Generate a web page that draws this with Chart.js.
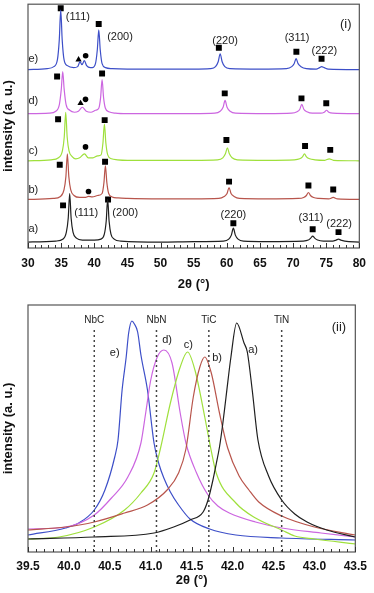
<!DOCTYPE html>
<html>
<head>
<meta charset="utf-8">
<style>
  html, body { margin: 0; padding: 0; background: #fff; }
  canvas { display: block; }
</style>
</head>
<body>
<canvas id="graficoXRD" width="374" height="296"></canvas>
<canvas id="graficoPico" width="374" height="297"></canvas>
<script src="https://cdn.jsdelivr.net/npm/chart.js@4.4.1/dist/chart.umd.min.js"></script>
<script>
// ---- panel (i): difractogramas completos, 2θ vs intensidad desplazada ----
const trazaA = [[30,6],[34.2,7],[35.3,9],[35.79,16],[36.07,30],[36.29,55],[36.51,30],[36.79,16],[37.3,10],[38.2,8],[40.0,8],
  [41.0,9],[41.52,14],[41.8,27],[42.02,49],[42.24,27],[42.52,14],[43.0,9],[44.0,7],[50,6],[55,6.5],
  [59.5,7],[60.3,9],[60.69,13],[60.99,20],[61.29,13],[61.7,9],[62.5,7],[66,6.5],
  [71.5,7],[72.3,8],[72.66,10],[72.96,12],[73.26,10],[73.7,8],[74.6,7],[76.0,7],[76.5,8],[76.86,9],[77.2,8],[77.8,7],[80,6]];
const trazaB = [[30,49],[33.8,50],[34.9,52],[35.44,59],[35.72,72],[35.94,95],[36.16,72],[36.44,59],[36.94,53],[37.8,51],
  [38.6,51],[39.13,52],[39.7,51.5],[40.5,53],[41.18,55],[41.46,66],[41.68,83],[41.9,66],[42.18,55],[42.7,51.5],[43.6,50.5],
  [45,50],[50,49.5],[55,49.5],[58.8,50],[59.6,52],[60.04,55],[60.34,61],[60.64,55],[61.1,52],[61.9,50],[66,49.5],
  [70.8,50],[71.6,51],[72.02,53],[72.32,56],[72.62,53],[73.1,51],[73.9,50],[75.4,49.5],[76.06,51],[76.7,49.5],[80,49]];
const trazaC = [[30,88],[33.5,89],[34.6,91],[35.19,98],[35.47,112],[35.69,137],[35.91,112],[36.19,98],[36.7,92],
  [37.2,90],[37.8,91],[38.53,95],[39.1,91],[39.8,91],[40.5,93],[41.03,94],[41.31,106],[41.53,125],[41.75,106],[42.03,94],
  [42.6,90],[43.5,89],[45,88.5],[50,88.5],[55,88.5],[58.6,89],[59.4,91],[59.79,95],[60.09,101],[60.39,95],[60.8,91],[61.6,89],
  [66,88.5],[70.2,89],[71.0,90],[71.42,92],[71.72,95],[72.02,92],[72.5,90],[73.3,89],[74.8,88.5],[75.46,90],[76.1,88.5],[80,88]];
const trazaD = [[30,135.5],[33.2,136],[34.2,138],[34.74,145],[35.02,160],[35.24,178],[35.46,160],[35.74,145],[36.3,139],[37.0,137],
  [37.6,138],[38.2,142],[38.8,138],[39.5,137],[40.2,139],[40.68,141],[40.96,152],[41.18,170],[41.4,152],[41.68,141],[42.2,137.5],
  [43.2,136],[45,135.5],[50,135.5],[55,135.5],[58.2,136],[59.0,138],[59.44,142],[59.74,149],[60.04,142],[60.5,138],[61.3,136],
  [66,135.5],[69.8,136],[70.6,137.5],[71.02,140],[71.32,145],[71.62,140],[72.1,137.5],[72.9,136],
  [74.2,136],[74.7,137],[75.06,139],[75.4,137],[76.0,136],[80,135.5]];
const trazaE = [[30,180],[32.9,181],[33.9,183],[34.44,190],[34.72,210],[34.94,240],[35.16,210],[35.44,190],[35.94,184],[36.9,182],
  [37.5,183],[37.85,188],[38.15,185],[38.5,189],[38.85,184],[39.4,182],[39.7,182],[40.18,186],[40.46,200],[40.68,220],[40.9,200],
  [41.18,186],[41.7,182],[42.7,181],[45,180.5],[50,180.5],[55,180.5],[57.5,181],[58.3,183],[58.7,188],[59.0,196],[59.3,188],
  [59.7,183],[60.5,181],[65,180.5],[69.0,181],[69.8,183],[70.16,186],[70.46,191],[70.76,186],[71.2,183],[72.0,181],
  [73.5,180.5],[74.0,182],[74.31,183],[74.7,182],[75.3,180.5],[80,180]];

// fases: ■ carburo/nitruro cúbico, ● y ▲ fases secundarias
const marcasCuadro = [[34.94,242],[40.67,226],[58.8,202],[70.5,198],[74.3,191],
  [34.39,173],[41.18,176],[59.69,156],[71.27,151],[75.01,146],
  [34.54,130],[41.57,129],[59.94,109],[71.81,103],[75.61,99],
  [34.79,84],[41.63,87],[60.34,67],[72.32,63],[76.06,59],
  [35.29,43],[42.08,49],[60.99,25],[72.96,19],[76.86,16]];
const marcasCirculo = [[38.7,194],[38.68,150],[38.68,102],[39.13,57]];
const marcasTriangulo = [[37.63,190],[37.93,146]];

const textosXRD = [
  ['e)',30.8,191],['d)',30.8,148],['c)',30.8,98],['b)',30.8,59],['a)',30.8,19],
  ['(111)',37.53,233],['(200)',43.88,213],['(220)',59.74,209],['(311)',70.61,212],['(222)',74.72,199],
  ['(111)',38.78,35],['(200)',44.67,35],['(220)',60.99,33],['(311)',72.71,30],['(222)',76.96,24]
];

// ---- panel (ii): detalle del pico (200) ----
const picoA = [[39.5,13],[40.31,15],[41.04,19],[41.28,25],[41.48,32],[41.64,40],[41.70,52],[41.76,72],[41.80,88],[41.84,105],
  [41.88,128],[41.92,155],[41.98,195],[42.05,229],[42.14,209],[42.18,200],[42.24,162],[42.31,112],[42.44,76],[42.60,52],
  [42.76,38],[42.91,30],[43.15,22],[43.5,15]];
const picoB = [[39.5,22],[39.96,25],[40.31,30],[40.68,39],[40.96,47],[41.20,62],[41.34,79],[41.43,103],[41.52,155],[41.60,185],
  [41.66,195],[41.74,179],[41.84,139],[41.94,104],[42.08,76],[42.20,62],[42.32,50],[42.60,36],[43.0,25],[43.5,17]];
const picoC = [[39.5,13],[39.88,15],[40.31,25],[40.68,42],[40.88,59],[41.04,79],[41.12,104],[41.24,149],[41.36,185],[41.45,200],
  [41.54,182],[41.66,135],[41.73,105],[41.80,79],[42.04,49],[42.28,34],[42.60,22],[42.76,16],[43.0,13],[43.5,8]];
const picoD = [[39.5,23],[39.96,25],[40.31,37],[40.52,54],[40.72,75],[40.88,109],[40.94,140],[41.00,172],[41.08,195],[41.16,202],
  [41.26,189],[41.36,139],[41.43,109],[41.56,79],[41.70,57],[41.82,46],[41.96,39],[42.28,30],[42.60,24],[43.08,19],[43.5,15]];
const picoE = [[39.5,17],[39.96,24],[40.12,29],[40.31,42],[40.44,62],[40.56,95],[40.60,112],[40.65,162],[40.70,195],[40.73,219],
  [40.77,231],[40.80,228],[40.84,220],[40.88,197],[40.96,162],[41.04,109],[41.10,88],[41.16,74],[41.24,60],[41.34,47],
  [41.48,33],[41.72,23],[42.04,17],[42.60,14],[43.5,12]];

const refNombres = ['NbC', 'NbN', 'TiC', 'TiN'];
const refPosiciones = [40.31, 41.07, 41.71, 42.60];
const refAltura = 222;

const textosPico = [
  ['e)',40.56,199],['d)',41.20,212],['c)',41.46,207],['b)',41.81,194],['a)',42.25,202]
];

const colores = { a: '#1f1f1f', b: '#b8554c', c: '#9fe03c', d: '#cc66e0', e: '#3d4fc8' };
const fuente = "'Liberation Sans', Arial, sans-serif";

function aPuntos(lista) {
  return lista.map(p => ({ x: p[0], y: p[1] }));
}

function linea(datos, color) {
  return {
    data: aPuntos(datos), showLine: true, borderColor: color, borderWidth: 1.2,
    pointRadius: 0, cubicInterpolationMode: 'monotone', fill: false
  };
}

// marco del gráfico y marcas de eje hacia dentro
function pluginMarco(paso, pasoMayor) {
  return {
    id: 'marco',
    afterDatasetsDraw(chart) {
      const { ctx, chartArea: a, scales: { x } } = chart;
      ctx.save();
      ctx.strokeStyle = '#555';
      ctx.lineWidth = 1.2;
      ctx.strokeRect(a.left, a.top, a.right - a.left, a.bottom - a.top);
      ctx.strokeStyle = '#333';
      ctx.lineWidth = 1;
      const n = Math.round((x.max - x.min) / paso);
      const cada = Math.round(pasoMayor / paso);
      for (let i = 0; i <= n; i++) {
        const px = Math.round(x.getPixelForValue(x.min + i * paso)) + 0.5;
        const largo = i % cada === 0 ? 5 : 3;
        ctx.beginPath();
        ctx.moveTo(px, a.bottom);
        ctx.lineTo(px, a.bottom - largo);
        ctx.stroke();
      }
      ctx.restore();
    }
  };
}

function pluginTextos(items, extra) {
  return {
    id: 'textos',
    afterDatasetsDraw(chart) {
      const { ctx, scales: { x, y } } = chart;
      ctx.save();
      ctx.fillStyle = '#222';
      ctx.textAlign = 'center';
      ctx.textBaseline = 'middle';
      items.forEach(([t, vx, vy]) => {
        ctx.font = '11px ' + fuente;
        ctx.fillText(t, x.getPixelForValue(vx), y.getPixelForValue(vy));
      });
      extra.forEach(([t, vx, vy, tam]) => {
        ctx.font = tam + 'px ' + fuente;
        ctx.fillText(t, x.getPixelForValue(vx), y.getPixelForValue(vy));
      });
      ctx.restore();
    }
  };
}

function opcionesEjes(xMin, xMax, paso, yMax, altoX, padTicks, padTitulo, decimales) {
  return {
    x: {
      type: 'linear', min: xMin, max: xMax,
      grid: { display: false, drawTicks: false },
      border: { display: false },
      ticks: {
        stepSize: paso, autoSkip: false, maxRotation: 0, padding: padTicks, color: '#111',
        font: { family: fuente, size: 12, weight: 'bold' },
        callback: v => decimales ? Number(v).toFixed(decimales) : v
      },
      title: { display: true, text: '2θ (°)', color: '#111', padding: { top: 0, bottom: padTitulo },
        font: { family: fuente, size: 13, weight: 'bold' } },
      afterFit: s => { s.height = altoX; }
    },
    y: {
      min: 0, max: yMax,
      grid: { display: false, drawTicks: false },
      border: { display: false },
      ticks: { display: false },
      title: { display: true, text: 'intensity (a. u.)', color: '#111', padding: { top: 1, bottom: 0 },
        font: { family: fuente, size: 13, weight: 'bold' } },
      afterFit: s => { s.width = 28; }
    }
  };
}

// panel (i)
new Chart(document.getElementById('graficoXRD'), {
  type: 'scatter',
  data: {
    datasets: [
      linea(trazaA, colores.a), linea(trazaB, colores.b), linea(trazaC, colores.c),
      linea(trazaD, colores.d), linea(trazaE, colores.e),
      { data: aPuntos(marcasCuadro), pointStyle: 'rect', pointRadius: 4.2, backgroundColor: '#000', borderWidth: 0 },
      { data: aPuntos(marcasCirculo), pointStyle: 'circle', pointRadius: 2.8, backgroundColor: '#000', borderWidth: 0 },
      { data: aPuntos(marcasTriangulo), pointStyle: 'triangle', pointRadius: 3.6, backgroundColor: '#000', borderWidth: 0 }
    ]
  },
  options: {
    responsive: false, animation: false,
    layout: { padding: { top: 2, right: 12, left: 0, bottom: 0 } },
    plugins: { legend: { display: false }, tooltip: { enabled: false } },
    scales: opcionesEjes(30, 80, 5, 246, 48, 8, 4, 0)
  },
  plugins: [pluginMarco(1, 5), pluginTextos(textosXRD, [['(i)', 77.95, 226, 13]])]
});

// panel (ii)
const lineasRef = refPosiciones.map(p => ({
  data: [{ x: p, y: 0 }, { x: p, y: refAltura }], showLine: true, borderColor: '#444',
  borderWidth: 1.5, borderDash: [2, 3], pointRadius: 0
}));
const textosRef = refNombres.map((n, i) => [n, refPosiciones[i], refAltura + 10, 10]);

new Chart(document.getElementById('graficoPico'), {
  type: 'scatter',
  data: {
    datasets: [
      ...lineasRef,
      linea(picoA, colores.a), linea(picoB, colores.b), linea(picoC, colores.c),
      linea(picoD, colores.d), linea(picoE, colores.e)
    ]
  },
  options: {
    responsive: false, animation: false,
    layout: { padding: { top: 9, right: 12, left: 0, bottom: 0 } },
    plugins: { legend: { display: false }, tooltip: { enabled: false } },
    scales: opcionesEjes(39.5, 43.5, 0.5, 247, 41, 7, 5, 1)
  },
  plugins: [pluginMarco(0.1, 0.5), pluginTextos(textosPico, [...textosRef, ['(ii)', 43.30, 225, 13]])]
});
</script>
</body>
</html>
